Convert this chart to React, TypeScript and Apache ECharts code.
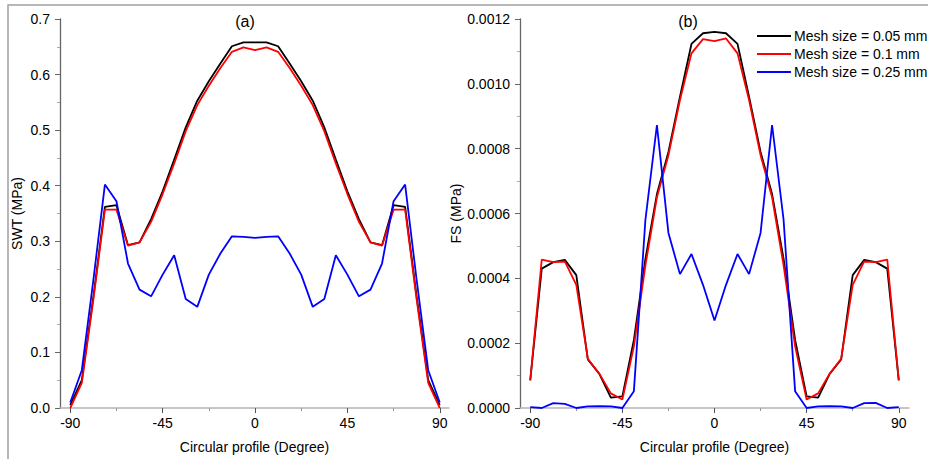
import React, { useEffect, useRef } from "react";
import * as echarts from "echarts";

const degrees = [
  -90, -84.375, -78.75, -73.125, -67.5, -61.875, -56.25, -50.625, -45, -39.375, -33.75,
  -28.125, -22.5, -16.875, -11.25, -5.625, 0, 5.625, 11.25, 16.875, 22.5, 28.125, 33.75,
  39.375, 45, 50.625, 56.25, 61.875, 67.5, 73.125, 78.75, 84.375, 90,
];

const seriesNames = ["Mesh size = 0.05 mm", "Mesh size = 0.1 mm", "Mesh size = 0.25 mm"];
const seriesColors = ["#000000", "#ff0000", "#0000ff"];

// Panel (a): SWT (MPa)
const swt005 = [
  0.005, 0.05, 0.2, 0.362, 0.365, 0.293, 0.298, 0.34, 0.39, 0.447, 0.505,
  0.553, 0.588, 0.62, 0.651, 0.658, 0.658, 0.658, 0.651, 0.62, 0.588, 0.553, 0.505,
  0.447, 0.39, 0.34, 0.298, 0.293, 0.365, 0.362, 0.2, 0.05, 0.005,
];
const swt01 = [
  0.0, 0.045, 0.195, 0.357, 0.357, 0.292, 0.298, 0.335, 0.385, 0.44, 0.498,
  0.545, 0.58, 0.612, 0.641, 0.649, 0.644, 0.649, 0.641, 0.612, 0.58, 0.545, 0.498,
  0.44, 0.385, 0.335, 0.298, 0.292, 0.357, 0.357, 0.195, 0.045, 0.0,
];
const swt025 = [
  0.01, 0.068, 0.23, 0.402, 0.372, 0.26, 0.213, 0.201, 0.24, 0.275, 0.196,
  0.182, 0.24, 0.278, 0.309, 0.308, 0.306, 0.308, 0.309, 0.278, 0.24, 0.182, 0.196,
  0.275, 0.24, 0.201, 0.213, 0.26, 0.372, 0.402, 0.23, 0.068, 0.01,
];

// Panel (b): FS (MPa)
const fs005 = [
  0.000085, 0.00043, 0.00045, 0.000457, 0.00041, 0.00015, 0.000105, 0.000032, 0.000036, 0.00021, 0.00046,
  0.00066, 0.00079, 0.00096, 0.001123, 0.001156, 0.00116, 0.001156, 0.001123, 0.00096, 0.00079, 0.00066, 0.00046,
  0.00021, 0.000036, 0.000032, 0.000105, 0.00015, 0.00041, 0.000457, 0.00045, 0.00043, 0.000085,
];
const fs01 = [
  0.0000855, 0.000458, 0.00045, 0.000452, 0.00038, 0.000152, 0.000106, 0.000045, 0.000026, 0.00019, 0.00044,
  0.00065, 0.00078, 0.00095, 0.001094, 0.001138, 0.001132, 0.00114, 0.001094, 0.00095, 0.00078, 0.00065, 0.00044,
  0.00019, 0.000026, 0.000045, 0.000106, 0.000152, 0.00038, 0.000452, 0.00045, 0.000458, 0.0000855,
];
const fs025 = [
  0.000003, 0.0, 0.000015, 0.000013, 0.0, 0.000005, 0.000006, 0.000005, 0.0, 0.000052, 0.00058,
  0.000873, 0.00054, 0.000413, 0.000475, 0.00038, 0.00027, 0.00038, 0.000475, 0.000413, 0.00054, 0.000873, 0.00058,
  0.000052, 0.0, 0.000005, 0.000006, 0.000005, 0.0, 0.000015, 0.000016, 0.0, 0.000003,
];

const xMajor = [-90, -45, 0, 45, 90];
const xMinor = [-67.5, -22.5, 22.5, 67.5];

const FONT = "'Liberation Sans', Arial, sans-serif";

export default function App() {
  const ref = useRef<HTMLDivElement>(null);

  useEffect(() => {
    if (!ref.current) return;
    const chart = echarts.init(ref.current, undefined, { renderer: "svg" });

    const grids = [
      { left: 60, top: 19, width: 389, height: 389 },
      { left: 520, top: 19, width: 389, height: 389 },
    ];
    const xRanges = [
      [-95, 94.5],
      [-95, 95],
    ];

    const xAxes: any[] = [];
    [0, 1].forEach((g) => {
      xAxes.push({
        type: "value",
        gridIndex: g,
        min: xRanges[g][0],
        max: xRanges[g][1],
        name: "Circular profile (Degree)",
        nameLocation: "middle",
        nameGap: 32,
        nameTextStyle: { fontFamily: FONT, fontSize: 14, color: "#000" },
        axisLine: { show: true, onZero: false, lineStyle: { color: "#b4b4b4", width: 1.5 } },
        axisTick: { show: true, length: 5, customValues: xMajor, lineStyle: { color: "#555", width: 1 } },
        axisLabel: { customValues: xMajor, fontFamily: FONT, fontSize: 14, color: "#000", margin: 8 },
        splitLine: { show: false },
      });
    });
    [0, 1].forEach((g) => {
      xAxes.push({
        type: "value",
        gridIndex: g,
        position: "bottom",
        min: xRanges[g][0],
        max: xRanges[g][1],
        axisLine: { show: false, onZero: false },
        axisTick: { show: true, length: 3, customValues: xMinor, lineStyle: { color: "#999", width: 1 } },
        axisLabel: { show: false, customValues: xMinor },
        splitLine: { show: false },
      });
    });

    const yAxes = [
      {
        type: "value",
        gridIndex: 0,
        min: 0,
        max: 0.7,
        interval: 0.1,
        name: "SWT (MPa)",
        nameLocation: "middle",
        nameGap: 36,
        nameTextStyle: { fontFamily: FONT, fontSize: 14, color: "#000" },
        axisLine: { show: true, onZero: false, lineStyle: { color: "#666", width: 1.3 } },
        axisTick: { show: true, length: 5, lineStyle: { color: "#666" } },
        minorTick: { show: true, splitNumber: 2, length: 3, lineStyle: { color: "#aaa" } },
        axisLabel: {
          fontFamily: FONT,
          fontSize: 14,
          color: "#000",
          margin: 10,
          formatter: (v: number) => v.toFixed(1),
        },
        splitLine: { show: false },
      },
      {
        type: "value",
        gridIndex: 1,
        min: 0,
        max: 0.0012,
        interval: 0.0002,
        name: "FS (MPa)",
        nameLocation: "middle",
        nameGap: 57,
        nameTextStyle: { fontFamily: FONT, fontSize: 14, color: "#000" },
        axisLine: { show: true, onZero: false, lineStyle: { color: "#666", width: 1.3 } },
        axisTick: { show: true, length: 5, lineStyle: { color: "#666" } },
        minorTick: { show: true, splitNumber: 2, length: 3, lineStyle: { color: "#aaa" } },
        axisLabel: {
          fontFamily: FONT,
          fontSize: 14,
          color: "#000",
          margin: 10,
          formatter: (v: number) => v.toFixed(4),
        },
        splitLine: { show: false },
      },
    ];

    const panelData = [
      [swt005, swt01, swt025],
      [fs005, fs01, fs025],
    ];
    const series: any[] = [];
    [0, 1].forEach((g) => {
      panelData[g].forEach((arr, k) => {
        series.push({
          type: "line",
          name: seriesNames[k],
          xAxisIndex: g,
          yAxisIndex: g,
          data: degrees.map((d, i) => [d, arr[i]]),
          symbol: "none",
          lineStyle: { color: seriesColors[k], width: 1.8 },
          itemStyle: { color: seriesColors[k] },
          z: 2 + k,
        });
      });
    });

    chart.setOption({
      animation: false,
      backgroundColor: "#ffffff",
      grid: grids,
      xAxis: xAxes,
      yAxis: yAxes,
      legend: {
        orient: "vertical",
        left: 752,
        top: 24,
        itemWidth: 34,
        itemHeight: 2,
        itemGap: 4,
        icon: "rect",
        data: seriesNames,
        textStyle: { fontFamily: FONT, fontSize: 14, lineHeight: 14, color: "#000", padding: [0, 0, 0, -2] },
      },
      graphic: [
        {
          type: "rect",
          shape: { x: 8, y: 5, width: 1000, height: 1000 },
          style: { fill: "none", stroke: "#a0a0a0", lineWidth: 1.5 },
          silent: true,
        },
        {
          type: "text",
          x: 245,
          y: 21,
          style: {
            text: "(a)",
            fontFamily: FONT,
            fontSize: 16,
            fill: "#000",
            textAlign: "center",
            textVerticalAlign: "middle",
          },
        },
        {
          type: "text",
          x: 688,
          y: 21,
          style: {
            text: "(b)",
            fontFamily: FONT,
            fontSize: 16,
            fill: "#000",
            textAlign: "center",
            textVerticalAlign: "middle",
          },
        },
      ],
      series,
    });

    return () => chart.dispose();
  }, []);

  return (
    <div
      ref={ref}
      style={{ position: "fixed", left: 0, top: 0, width: 928, height: 459, background: "#fff" }}
    />
  );
}
